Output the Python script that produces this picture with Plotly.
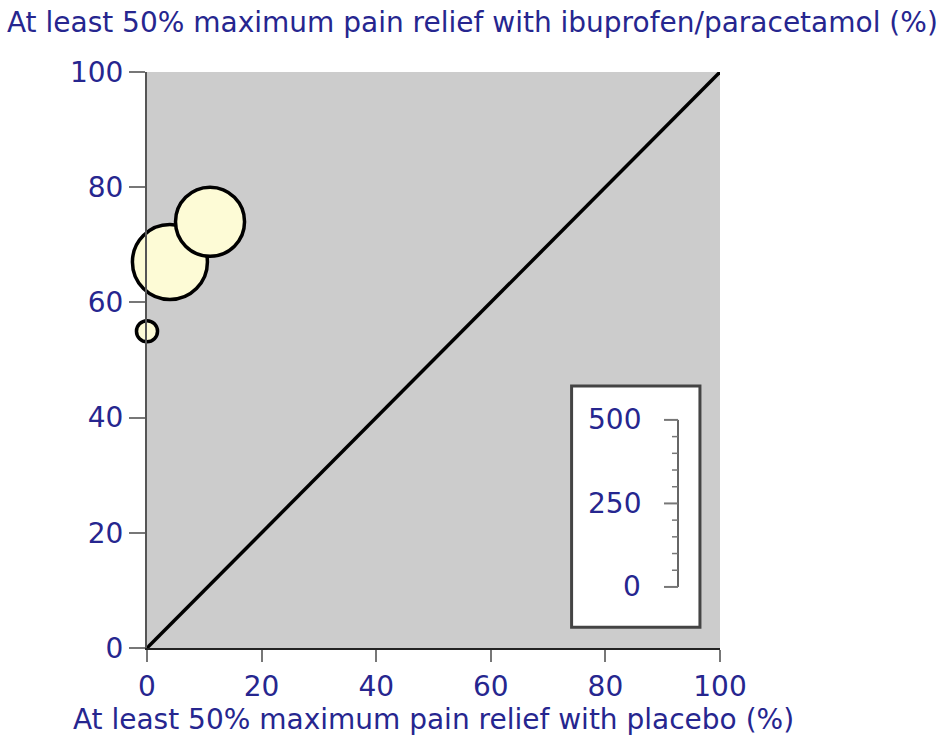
import plotly.graph_objects as go

# Trial results: % with at least 50% max pain relief
placebo_pct = [0.0, 4.0, 11.0]
active_pct = [55.0, 67.0, 74.0]
patients = [32, 406, 344]

# Line of equality
equality_x = [0, 100]
equality_y = [0, 100]

axis_ticks = [0, 20, 40, 60, 80, 100]
scale_labels = [0, 250, 500]
scale_minor = list(range(0, 501, 50))
scale_max = 500

TEXT = "#26268f"
FONT = "DejaVu Sans, Liberation Sans, Arial, sans-serif"
FS = 28
MAX_PX = 75

fig = go.Figure()

fig.add_trace(go.Scatter(
    x=equality_x, y=equality_y, mode="lines",
    line=dict(color="black", width=3.5), hoverinfo="skip", showlegend=False,
))

fig.add_trace(go.Scatter(
    x=placebo_pct, y=active_pct, mode="markers",
    marker=dict(
        size=patients, sizemode="area",
        sizeref=2 * max(patients) / MAX_PX ** 2,
        color="#fdfbd6", line=dict(color="black", width=3.5), opacity=1,
    ),
    cliponaxis=False, showlegend=False,
))

# ---- size-scale inset (paper coordinates) ----
box = dict(x0=0.741, x1=0.965, y0=0.036, y1=0.455)
bar_x = 0.9267
bar_y0, bar_y1 = 0.106, 0.396
major_len, minor_len = 0.0244, 0.0105
label_x = 0.866


def scale_y(v):
    return bar_y0 + (bar_y1 - bar_y0) * v / scale_max


fig.add_shape(type="rect", xref="paper", yref="paper", **box,
              line=dict(color="#444444", width=3), fillcolor="white",
              layer="above")
fig.add_shape(type="line", xref="paper", yref="paper",
              x0=bar_x, x1=bar_x, y0=scale_y(0), y1=scale_y(scale_max),
              line=dict(color="#666666", width=2), layer="above")
for v in scale_minor:
    length = major_len if v in scale_labels else minor_len
    fig.add_shape(type="line", xref="paper", yref="paper",
                  x0=bar_x - length, x1=bar_x, y0=scale_y(v), y1=scale_y(v),
                  line=dict(color="#777777", width=2 if v in scale_labels else 1.5),
                  layer="above")
for v in scale_labels:
    fig.add_annotation(x=label_x, y=scale_y(v), xref="paper", yref="paper",
                       text=str(v), showarrow=False, xanchor="right",
                       yanchor="middle", font=dict(size=FS, color=TEXT))

fig.update_layout(
    width=941, height=738,
    margin=dict(l=147, r=221, t=72, b=90),
    paper_bgcolor="white", plot_bgcolor="#cccccc",
    font=dict(family=FONT, color=TEXT, size=FS),
    title=dict(
        text="At least 50% maximum pain relief with ibuprofen/paracetamol (%)",
        x=0.502, xanchor="center", y=0.970, yanchor="middle",
        font=dict(size=FS, color=TEXT),
    ),
    xaxis=dict(
        range=[0, 100], tickvals=axis_ticks, ticks="outside", ticklen=12,
        tickwidth=2, tickcolor="#777777", showgrid=False, zeroline=False,
        showline=True, linecolor="#222222", linewidth=2,
        title=dict(text="At least 50% maximum pain relief with placebo (%)",
                   font=dict(size=FS, color=TEXT), standoff=0),
        tickfont=dict(size=FS, color=TEXT),
    ),
    yaxis=dict(
        range=[0, 100], tickvals=axis_ticks, ticks="outside", ticklen=16,
        tickwidth=2, tickcolor="#777777", showgrid=False, zeroline=False,
        showline=True, linecolor="#555555", linewidth=2,
        tickfont=dict(size=FS, color=TEXT),
    ),
)

fig.write_html("out.html")
